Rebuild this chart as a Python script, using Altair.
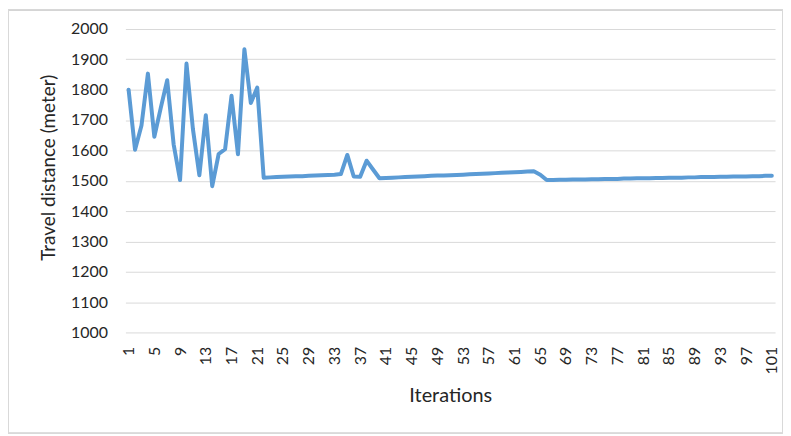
import altair as alt
import pandas as pd

iterations = list(range(1, 102))
distance = [
    1800, 1602, 1682, 1853, 1645, 1740, 1831, 1620, 1502, 1886,
    1670, 1518, 1716, 1482, 1588, 1604, 1780, 1587, 1933, 1756,
    1807, 1510, 1511, 1512, 1513, 1514, 1515, 1515, 1516, 1517,
    1518, 1519, 1520, 1522, 1585, 1514, 1513, 1566, 1537, 1508,
    1509, 1510, 1511, 1512, 1513, 1514, 1515, 1516, 1517, 1517,
    1518, 1519, 1520, 1521, 1522, 1523, 1524, 1525, 1526, 1527,
    1528, 1529, 1530, 1531, 1520, 1502, 1502, 1503, 1503, 1504,
    1504, 1504, 1505, 1505, 1506, 1506, 1506, 1507, 1507, 1508,
    1508, 1508, 1509, 1509, 1510, 1510, 1510, 1511, 1511, 1512,
    1512, 1512, 1513, 1513, 1514, 1514, 1514, 1515, 1515, 1516,
    1516,
]
x_tick_values = list(range(1, 102, 4))
y_tick_values = list(range(1000, 2001, 100))

df = pd.DataFrame({"Iteration": iterations, "Distance": distance})

FONT = "Lato"

line = alt.Chart(df).mark_line(
    color="#5B9BD5", strokeWidth=4, strokeJoin="round", strokeCap="round"
).encode(
    x=alt.X(
        "Iteration:Q",
        scale=alt.Scale(domain=[0.5, 101.5], nice=False, zero=False),
        axis=alt.Axis(
            values=x_tick_values,
            format="d",
            labelAngle=-90,
            labelAlign="right",
            labelBaseline="middle",
            grid=False,
            ticks=False,
            domain=False,
            labelPadding=14,
            title="Iterations",
            titleFontSize=20,
            titlePadding=12,
        ),
    ),
    y=alt.Y(
        "Distance:Q",
        scale=alt.Scale(domain=[1000, 2000], nice=False, zero=False),
        axis=alt.Axis(
            values=y_tick_values,
            format="d",
            grid=True,
            gridColor="#d9d9d9",
            gridWidth=1,
            ticks=False,
            domain=False,
            labelPadding=18,
            title="Travel distance (meter)",
            titleFontSize=19,
            titlePadding=12,
            titleY=139,
        ),
    ),
)

border = alt.Chart(df).mark_rect(
    fill=None, stroke="#d9d9d9", strokeWidth=1
).encode(
    x=alt.value(-117.5),
    x2=alt.value(660.5),
    y=alt.value(-19.5),
    y2=alt.value(406.5),
)

chart = alt.layer(border, line).properties(
    width=653,
    height=305,
    autosize=alt.AutoSizeParams(type="none"),
    padding={"left": 118, "top": 20, "right": 8, "bottom": 103},
).configure_view(
    stroke=None
).configure_axis(
    labelFont=FONT,
    labelFontSize=16,
    labelColor="#262626",
    titleFont=FONT,
    titleFontWeight="normal",
    titleColor="#262626",
)

chart.save("out.html", embed_options={"renderer": "svg", "actions": False})
